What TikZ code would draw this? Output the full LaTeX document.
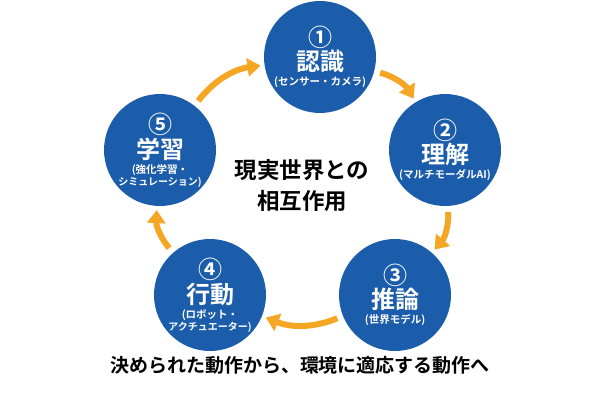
\documentclass[tikz,border=0pt]{standalone}
\usepackage{fontspec}
\setmainfont{Noto Sans CJK JP}[BoldFont={Noto Sans CJK JP Bold}]
\usetikzlibrary{arrows.meta}
\definecolor{stepblue}{HTML}{1B5DAA}
\definecolor{arroworange}{HTML}{F5A623}
\tikzset{
  stage/.style={circle,fill=stepblue,minimum size=112pt,inner sep=0pt,text=white,align=center,font=\bfseries},
  flow/.style={arroworange,line width=6pt,-{Triangle[length=13pt,width=18pt]},shorten <=6pt,shorten >=4pt}
}
\newcommand{\stepname}[3]{\fontsize{24}{24}\selectfont #1\\[1pt]\fontsize{24}{24}\selectfont #2\\[3pt]\fontsize{10.5}{13}\selectfont #3}
\begin{document}
\begin{tikzpicture}[x=1pt,y=1pt]
  \useasboundingbox (0,0) rectangle (600,400);
  % 五つのステップ
  \node [stage] (n1) at (320,343) {\stepname{①}{認識}{(センサー・カメラ)}};
  \node [stage] (n2) at (445,250) {\stepname{②}{理解}{(マルチモーダルAI)}};
  \node [stage] (n3) at (395,105) {\stepname{③}{推論}{(世界モデル)}};
  \node [stage] (n4) at (210,105) {\stepname{④}{行動}{(ロボット・\\アクチュエーター)}};
  \node [stage] (n5) at (160,250) {\stepname{⑤}{学習}{(強化学習・\\シミュレーション)}};
  % 循環の矢印
  \draw [flow] (n1) to[bend left=22] (n2);
  \draw [flow] (n2) to[bend left=22] (n3);
  \draw [flow] (n3) to[bend left=22] (n4);
  \draw [flow] (n4) to[bend left=22] (n5);
  \draw [flow] (n5) to[bend left=22] (n1);
  % 中央と下のテキスト
  \node [font=\bfseries\fontsize{22.5}{31}\selectfont,align=center] (center) at (302,214) {現実世界との\\相互作用};
  \node [font=\bfseries\fontsize{19}{22}\selectfont] (caption) at (300,35) {決められた動作から、環境に適応する動作へ};
\end{tikzpicture}
\end{document}
